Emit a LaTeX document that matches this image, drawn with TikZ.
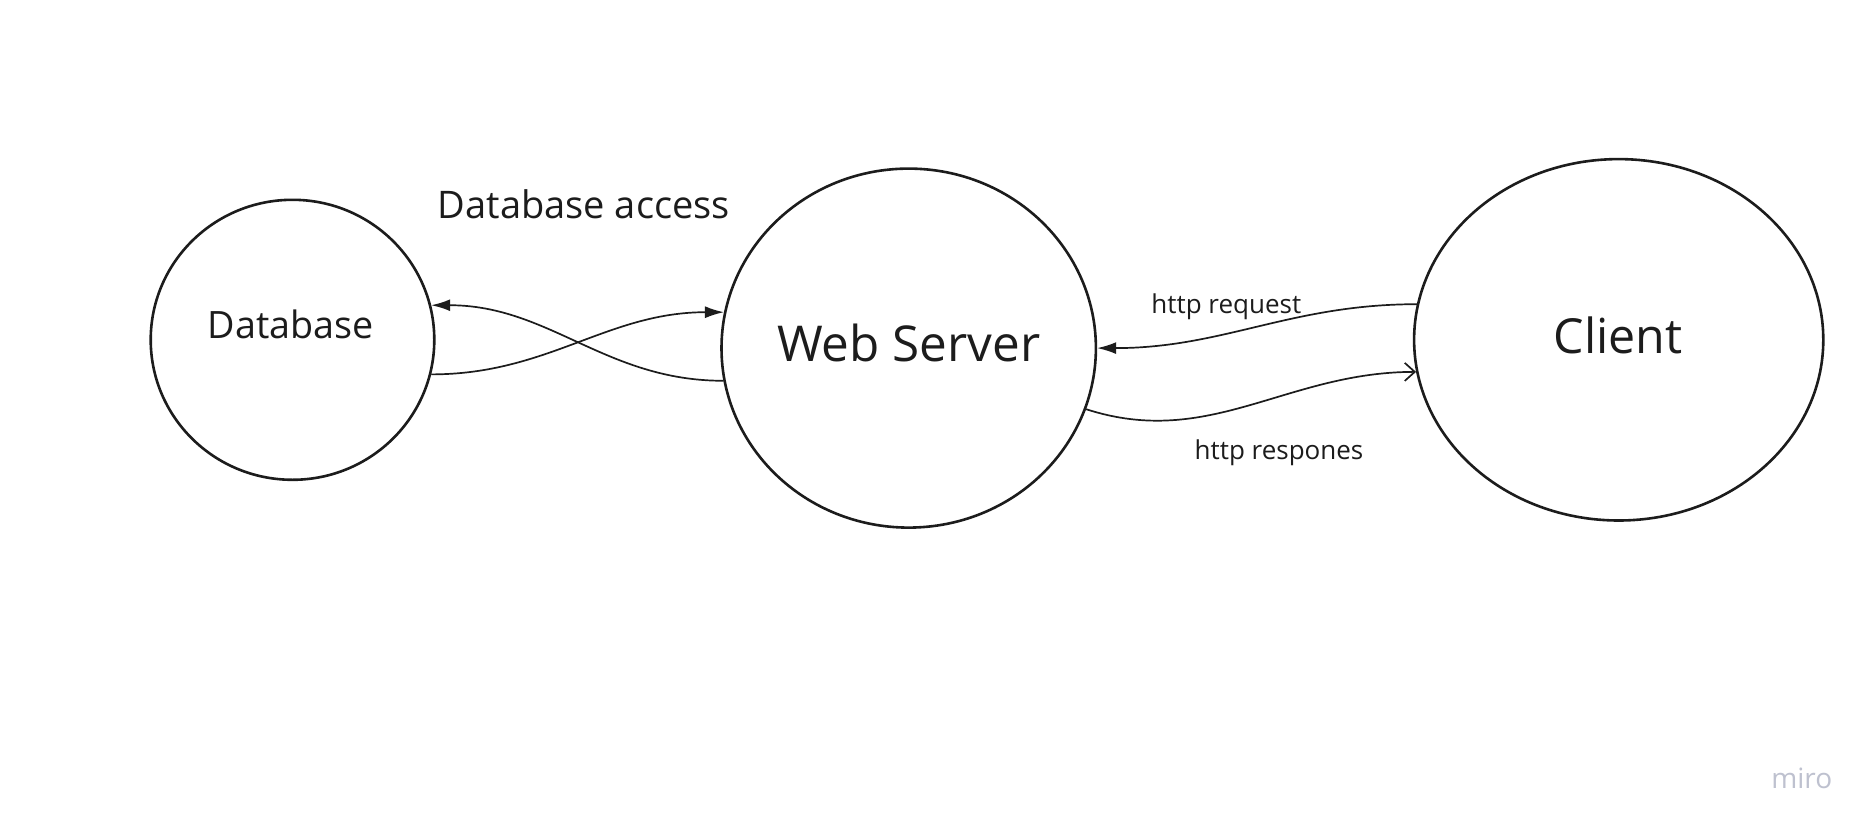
\documentclass[tikz,border=0pt]{standalone}
\usepackage{fontspec}
\setmainfont{Open Sans}
\usetikzlibrary{shapes.geometric,arrows.meta}
\definecolor{ink}{RGB}{28,28,28}
\definecolor{logo}{RGB}{190,193,207}
\begin{document}
\begin{tikzpicture}[x=1pt,y=-1pt,
  entity/.style={ellipse,draw=ink,line width=2.6pt,inner sep=0pt},
  flow/.style={draw=ink,line width=1.7pt},
  solidtip/.style={-{Latex[length=19pt,width=12pt]}},
  opentip/.style={-{Straight Barb[length=10pt,width=18pt,line width=1.7pt]}},
  lbl/.style={text=ink,inner sep=0pt}]
\useasboundingbox[fill=white] (0,0) rectangle (1876,832);

% the three parties
\node[entity,minimum width=283.6pt,minimum height=280pt] (db) at (292.5,339.8) {};
\node[entity,minimum width=374.4pt,minimum height=359pt] (ws) at (908.7,348.1) {};
\node[entity,minimum width=409.2pt,minimum height=361.4pt] (cl) at (1618.7,339.8) {};

\node[lbl,font=\fontsize{37.7}{42}\selectfont] (dbt) at (290.7,324.5) {Database};
\node[lbl,font=\fontsize{49.4}{56}\selectfont] (wst) at (908.7,342.5) {Web Server};
\node[lbl,font=\fontsize{48.3}{56}\selectfont] (clt) at (1618,335) {Client};

% database access in both directions
\draw[flow,solidtip] (ws.190.7) to[out=180,in=0] (db.14.2);
\draw[flow,solidtip] (db.-14.2) to[out=0,in=180] (ws.169.5);
\node[lbl,font=\fontsize{38}{44}\selectfont] (acc) at (583.8,204.5) {Database access};

% http exchange with the client
\draw[flow,solidtip] (cl.170.5) to[out=180,in=0] (ws.0);
\draw[flow,opentip] (ws.-19.5) to[out=-18,in=180] (cl.189.8);
\node[lbl,font=\fontsize{26}{31}\selectfont] (req) at (1226.3,306.5) {http request};
\node[lbl,font=\fontsize{26}{31}\selectfont] (res) at (1279,452.5) {http respones};

\node[lbl,text=logo,font=\fontsize{28}{33}\selectfont] (brand) at (1801.8,778.5) {miro};
\end{tikzpicture}
\end{document}
